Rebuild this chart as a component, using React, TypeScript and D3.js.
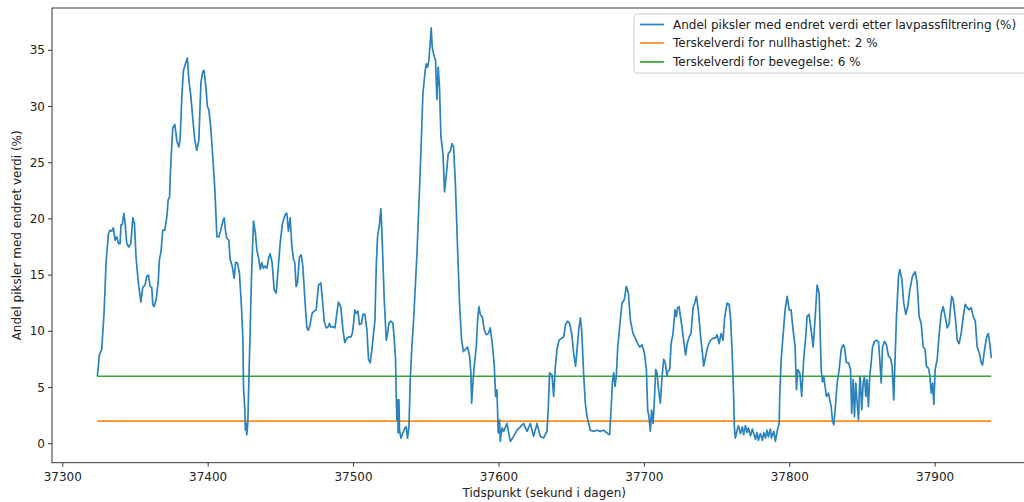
import React from "react";
import * as d3 from "d3";

const tidspunkt: number[] = [
  37323.8, 37325.2, 37326.8, 37328.4, 37329.8, 37331.4, 37332.5, 37333.7, 37334.8, 37336.0, 37337.2, 37338.3, 37339.4, 37340.1, 37341.0, 37342.0, 37342.9, 37344.0, 37345.4, 37346.8,
  37348.2, 37349.3, 37350.4, 37352.0, 37353.7, 37355.0, 37356.6, 37357.8, 37358.9, 37360.1, 37361.2, 37361.9, 37362.8, 37364.2, 37365.6, 37366.5, 37367.6, 37368.8, 37370.2, 37371.6,
  37372.5, 37373.4, 37374.3, 37375.7, 37377.1, 37378.4, 37379.8, 37380.7, 37381.9, 37383.0, 37384.4, 37385.7, 37386.7, 37388.1, 37389.5, 37390.8, 37392.2, 37393.6, 37395.0, 37396.3,
  37397.2, 37398.6, 37399.5, 37400.5, 37401.8, 37403.2, 37404.6, 37406.0, 37407.3, 37408.7, 37410.1, 37411.0, 37411.9, 37412.8, 37414.2, 37415.1, 37416.5, 37417.9, 37418.8, 37420.1,
  37421.5, 37422.9, 37423.9, 37424.3, 37425.2, 37425.6, 37426.1, 37426.6, 37427.3, 37428.0, 37428.9, 37429.8, 37431.2, 37432.5, 37433.5, 37434.9, 37435.8, 37436.9, 37438.0, 37439.2,
  37440.4, 37441.7, 37442.6, 37444.0, 37445.4, 37446.8, 37448.1, 37449.5, 37451.1, 37453.0, 37454.1, 37455.2, 37456.4, 37457.6, 37458.7, 37459.6, 37460.5, 37461.4, 37462.8, 37464.0,
  37465.1, 37466.7, 37467.9, 37469.0, 37470.2, 37471.5, 37472.9, 37474.3, 37475.9, 37477.5, 37478.4, 37479.8, 37481.2, 37482.6, 37483.4, 37484.4, 37485.8, 37487.2, 37488.5, 37489.6,
  37491.3, 37492.7, 37494.0, 37495.4, 37496.8, 37498.2, 37499.1, 37500.0, 37500.9, 37501.8, 37503.0, 37504.1, 37505.5, 37506.4, 37507.8, 37509.2, 37510.3, 37511.5, 37512.8, 37514.7,
  37515.6, 37516.5, 37517.9, 37518.8, 37519.7, 37521.1, 37522.5, 37523.4, 37524.3, 37525.7, 37527.1, 37528.0, 37528.9, 37529.3, 37529.8, 37530.2, 37530.7, 37531.2, 37531.6, 37532.6,
  37533.9, 37535.3, 37536.2, 37537.1, 37538.1, 37539.0, 37540.1, 37541.3, 37543.6, 37545.9, 37547.7, 37549.3, 37550.0, 37550.9, 37551.8, 37552.7, 37553.4, 37554.1, 37555.0, 37556.4,
  37557.3, 37558.2, 37559.1, 37560.1, 37561.5, 37562.6, 37563.7, 37565.1, 37566.5, 37567.7, 37568.8, 37570.1, 37571.5, 37572.9, 37574.3, 37575.6, 37577.0, 37578.4, 37579.8, 37580.7,
  37581.2, 37582.1, 37583.0, 37584.4, 37585.3, 37586.2, 37587.2, 37588.5, 37589.9, 37591.3, 37592.7, 37594.0, 37595.4, 37596.8, 37597.7, 37598.6, 37599.5, 37600.4, 37600.9, 37602.1,
  37603.2, 37605.5, 37607.8, 37610.1, 37612.4, 37614.7, 37616.9, 37619.3, 37621.6, 37623.8, 37626.2, 37628.4, 37630.7, 37633.0, 37633.9, 37634.8, 37636.5, 37637.6, 37638.8, 37639.9,
  37641.3, 37643.1, 37644.5, 37645.8, 37647.2, 37648.6, 37650.0, 37651.3, 37652.7, 37653.7, 37655.1, 37656.0, 37656.9, 37658.2, 37659.4, 37660.6, 37661.7, 37662.8, 37665.1, 37667.4,
  37669.7, 37672.0, 37674.3, 37676.1, 37677.1, 37678.0, 37678.9, 37679.8, 37680.7, 37681.6, 37683.0, 37684.6, 37686.2, 37687.6, 37689.0, 37690.4, 37692.2, 37693.8, 37695.4, 37696.8,
  37698.4, 37700.0, 37701.4, 37702.3, 37703.2, 37704.1, 37705.0, 37706.0, 37706.9, 37707.8, 37708.7, 37709.8, 37711.0, 37712.2, 37713.3, 37714.4, 37715.6, 37716.0, 37717.4, 37718.4,
  37719.7, 37721.1, 37722.0, 37722.9, 37723.9, 37724.8, 37725.9, 37727.0, 37728.4, 37729.4, 37730.8, 37732.1, 37733.5, 37734.6, 37735.8, 37737.1, 37738.5, 37739.9, 37740.8, 37742.2,
  37743.5, 37745.4, 37747.3, 37748.9, 37750.0, 37751.4, 37752.8, 37754.1, 37755.2, 37756.9, 37758.3, 37759.2, 37760.3, 37761.4, 37761.9, 37762.6, 37763.8, 37764.7, 37766.1, 37767.4, 37768.3, 37769.5, 37770.7, 37771.6,
  37773.0, 37774.3, 37775.2, 37776.4, 37777.5, 37778.4, 37779.8, 37781.2, 37782.1, 37783.3, 37784.4, 37785.3, 37786.7, 37787.4, 37789.0, 37790.1, 37791.3, 37792.7, 37793.1, 37794.1, 37795.5, 37796.8, 37798.2, 37799.6, 37800.9, 37802.3, 37803.7,
  37804.6, 37805.5, 37806.9, 37808.2, 37809.6, 37811.0, 37811.9, 37813.3, 37814.7, 37816.1, 37817.5, 37818.8, 37820.2, 37821.6, 37822.5, 37823.4, 37824.3, 37825.2, 37826.6, 37827.5,
  37828.5, 37829.4, 37830.3, 37831.2, 37832.6, 37834.0, 37835.4, 37836.7, 37837.6, 37839.0, 37840.4, 37841.8, 37842.6, 37843.6, 37844.5, 37845.4, 37846.4, 37847.3, 37848.2, 37848.6,
  37849.5, 37850.5, 37851.4, 37852.3, 37853.2, 37854.1, 37855.0, 37856.0, 37856.9, 37858.3, 37859.6, 37861.0, 37861.9, 37862.9, 37863.8, 37865.2, 37866.5, 37867.9, 37869.3, 37870.4,
  37871.5, 37872.5, 37873.4, 37874.8, 37875.7, 37877.1, 37878.4, 37879.8, 37881.2, 37882.6, 37884.4, 37886.3, 37887.6, 37889.0, 37890.4, 37891.8, 37893.1, 37894.0, 37895.4, 37896.3,
  37897.3, 37898.2, 37899.1, 37900.0, 37901.4, 37902.8, 37904.2, 37905.5, 37906.9, 37908.3, 37909.7, 37910.6, 37911.4, 37912.4, 37913.8, 37915.2, 37916.5, 37917.9, 37919.3, 37920.7,
  37922.0, 37923.4, 37924.8, 37926.2, 37927.6, 37928.9, 37930.3, 37931.7, 37932.6, 37934.0, 37935.4, 37936.5, 37937.6, 37938.6,
];

const andelEndret: number[] = [
  6.0, 7.9, 8.4, 11.6, 16.1, 18.7, 19.0, 18.9, 19.2, 18.1, 18.4, 17.8, 17.8, 19.5, 19.5, 20.5, 19.6, 17.8, 17.5, 17.8,
  20.1, 19.6, 16.6, 14.3, 12.6, 13.9, 14.1, 14.9, 15.0, 14.0, 13.9, 12.4, 12.2, 12.8, 14.3, 16.4, 17.1, 19.0, 19.0, 20.2,
  21.7, 21.9, 24.9, 28.1, 28.4, 27.0, 26.4, 27.0, 30.9, 33.2, 33.8, 34.3, 32.4, 30.9, 28.8, 27.0, 26.1, 27.0, 32.1, 33.1,
  33.2, 31.5, 30.0, 29.7, 28.1, 25.5, 22.6, 18.4, 18.4, 19.0, 19.8, 20.1, 19.0, 18.3, 18.1, 16.4, 15.8, 14.7, 16.1, 16.1,
  15.2, 12.2, 9.2, 5.1, 3.0, 1.2, 1.8, 0.8, 1.9, 5.7, 10.1, 14.9, 19.8, 18.7, 17.2, 16.4, 15.5, 16.1, 15.6, 15.8,
  15.6, 16.6, 16.9, 16.1, 13.7, 13.4, 15.5, 17.8, 19.6, 20.4, 20.5, 18.9, 20.1, 17.5, 16.4, 16.1, 14.0, 14.3, 16.6, 16.8,
  15.8, 12.5, 10.3, 10.1, 10.7, 11.6, 11.8, 11.9, 14.1, 14.3, 13.1, 10.9, 10.3, 10.4, 10.7, 10.4, 10.4, 10.3, 11.6, 12.6,
  12.1, 10.1, 9.0, 9.4, 9.5, 9.5, 9.8, 10.7, 11.9, 11.6, 11.8, 10.6, 10.7, 11.5, 11.5, 10.1, 7.5, 7.2, 8.6, 11.0,
  15.8, 18.4, 19.6, 20.9, 18.1, 12.8, 9.2, 9.8, 10.7, 10.9, 10.7, 9.2, 7.5, 4.5, 2.1, 3.9, 0.95, 3.9, 1.2, 0.5,
  0.95, 1.4, 1.5, 0.5, 1.5, 5.7, 8.6, 11.0, 16.9, 24.4, 31.2, 33.2, 33.8, 33.5, 34.1, 35.6, 37.0, 35.3, 34.7, 34.1,
  30.6, 33.5, 31.7, 27.3, 25.8, 22.4, 23.8, 25.8, 26.0, 26.7, 26.4, 22.9, 17.5, 12.5, 9.2, 8.2, 8.4, 8.6, 7.8, 6.3,
  3.6, 5.4, 6.9, 8.6, 11.0, 12.2, 11.5, 11.3, 10.1, 9.7, 9.8, 10.3, 8.9, 6.9, 4.2, 4.8, 0.95, 2.1, 0.2, 1.4,
  1.1, 1.8, 0.2, 0.65, 1.2, 1.5, 1.8, 1.1, 1.8, 0.65, 1.8, 0.65, 0.5, 1.1, 3.0, 6.3, 6.1, 4.2, 6.9, 8.4,
  9.2, 9.4, 9.5, 10.6, 10.9, 10.7, 9.8, 8.1, 6.9, 8.4, 10.4, 11.2, 10.1, 6.3, 3.6, 2.4, 1.8, 1.2, 1.1, 1.2,
  1.1, 1.2, 0.95, 0.8, 3.0, 5.4, 6.3, 5.1, 6.0, 8.4, 10.4, 12.5, 12.8, 14.0, 13.4, 11.0, 9.8, 9.4, 8.9, 8.6,
  8.8, 8.1, 6.6, 3.0, 2.4, 1.1, 3.0, 1.8, 3.9, 6.6, 6.3, 4.8, 3.6, 6.0, 7.5, 7.2, 6.0, 6.4, 6.6, 8.9,
  9.8, 11.9, 11.3, 12.1, 12.2, 11.3, 10.4, 9.2, 7.9, 8.9, 9.5, 9.8, 12.1, 12.5, 13.1, 11.9, 9.8, 8.1, 6.9, 7.8,
  8.6, 9.2, 9.4, 9.4, 9.7, 8.9, 9.8, 9.2, 11.2, 12.5, 12.4, 11.3, 8.4, 4.2, 1.5, 0.5, 1.2, 1.6, 0.9, 1.5, 0.8, 1.6, 1.0, 1.4,
  0.7, 1.3, 0.9, 0.4, 1.0, 0.3, 0.9, 0.3, 1.0, 0.5, 1.2, 0.6, 1.3, 0.5, 1.1, 0.2, 1.1, 1.8, 4.2, 7.5, 9.8, 11.9, 13.1, 11.9, 11.9, 10.1, 8.6,
  4.8, 6.6, 6.3, 4.2, 7.5, 9.5, 11.3, 11.5, 10.1, 8.6, 11.3, 14.1, 13.4, 6.6, 5.5, 6.0, 5.1, 4.2, 4.5, 3.9,
  3.3, 2.0, 1.7, 3.0, 5.4, 6.6, 8.4, 8.8, 8.6, 7.2, 7.2, 6.6, 2.7, 5.7, 2.4, 5.4, 3.6, 2.1, 6.0, 5.7,
  3.0, 5.4, 6.0, 4.2, 5.7, 3.3, 6.0, 7.2, 8.6, 9.1, 9.2, 9.1, 7.5, 5.4, 8.6, 9.1, 8.8, 7.8, 7.6, 6.9,
  3.9, 7.8, 11.3, 14.9, 15.5, 14.6, 12.5, 11.5, 12.2, 13.7, 14.9, 15.3, 14.3, 11.3, 10.7, 8.6, 8.4, 6.9, 6.7, 6.1,
  4.5, 5.4, 3.5, 6.6, 7.5, 9.8, 11.6, 12.2, 11.3, 10.3, 10.7, 12.2, 13.1, 12.8, 11.3, 9.2, 8.9, 9.8, 11.3, 12.4,
  12.1, 11.9, 12.1, 11.3, 10.9, 8.6, 8.1, 7.2, 7.0, 8.4, 9.5, 9.8, 8.9, 7.6,
];

const terskelNull = 2;
const terskelBevegelse = 6;

const xTicks: number[] = [37300, 37400, 37500, 37600, 37700, 37800, 37900];
const yTicks: number[] = [0, 5, 10, 15, 20, 25, 30, 35];

const legendLabels: string[] = [
  "Andel piksler med endret verdi etter lavpassfiltrering (%)",
  "Terskelverdi for nullhastighet: 2 %",
  "Terskelverdi for bevegelse: 6 %",
];
const seriesColors: string[] = ["#2a82bf", "#ff8a24", "#34a834"];

const W = 1024;
const H = 502;
const FONT = "DejaVu Sans, sans-serif";

export default function App() {
  const left = 52;
  const right = 1036.5;
  const top = 8;
  const bottom = 462.7;

  const x = d3.scaleLinear().domain([37292.6, 37969.7]).range([left, right]);
  const y = d3.scaleLinear().domain([-1.69, 38.76]).range([bottom, top]);

  const n = Math.min(tidspunkt.length, andelEndret.length);
  const pts: [number, number][] = tidspunkt.slice(0, n).map((t, i) => [t, andelEndret[i]]);
  const line = d3
    .line<[number, number]>()
    .x((d) => x(d[0]))
    .y((d) => y(d[1]));

  const t0 = tidspunkt[0];
  const t1 = tidspunkt[tidspunkt.length - 1];
  const nullLine = line([
    [t0, terskelNull],
    [t1, terskelNull],
  ]) as string;
  const moveLine = line([
    [t0, terskelBevegelse],
    [t1, terskelBevegelse],
  ]) as string;

  const legendX = 634;
  const legendY = 14;
  const rowYs = [24.5, 43, 62];

  return (
    <svg
      width={W}
      height={H}
      style={{ position: "absolute", left: 0, top: 0, overflow: "hidden", background: "#fff" }}
      fontFamily={FONT}
    >
      <rect x={0} y={0} width={W} height={H} fill="#fff" />
      <path d={nullLine} fill="none" stroke={seriesColors[1]} strokeWidth={1.7} />
      <path d={moveLine} fill="none" stroke={seriesColors[2]} strokeWidth={1.7} />
      <path d={line(pts) as string} fill="none" stroke={seriesColors[0]} strokeWidth={1.7} strokeLinejoin="round" />

      <rect x={left} y={top} width={right - left} height={bottom - top} fill="none" stroke="#222" strokeWidth={0.9} />

      {xTicks.map((t) => (
        <g key={"x" + t}>
          <line x1={x(t)} x2={x(t)} y1={bottom} y2={bottom + 4} stroke="#222" strokeWidth={0.9} />
          <text x={x(t)} y={bottom + 18} textAnchor="middle" fontSize={12} fill="#222">
            {t}
          </text>
        </g>
      ))}
      {yTicks.map((v) => (
        <g key={"y" + v}>
          <line x1={left - 4} x2={left} y1={y(v)} y2={y(v)} stroke="#222" strokeWidth={0.9} />
          <text x={left - 7} y={y(v)} dy="0.35em" textAnchor="end" fontSize={12} fill="#222">
            {v}
          </text>
        </g>
      ))}

      <text x={(left + right) / 2} y={497} textAnchor="middle" fontSize={12} fill="#222">
        Tidspunkt (sekund i dagen)
      </text>
      <text
        transform={`translate(21, ${(top + bottom) / 2}) rotate(-90)`}
        textAnchor="middle"
        fontSize={12}
        fill="#222"
      >
        Andel piksler med endret verdi (%)
      </text>

      <rect
        x={legendX}
        y={legendY}
        width={396}
        height={59}
        rx={3}
        fill="#fff"
        fillOpacity={0.8}
        stroke="#d0d0d0"
        strokeWidth={1}
      />
      {legendLabels.map((lab, i) => (
        <g key={lab}>
          <line x1={640} x2={664} y1={rowYs[i]} y2={rowYs[i]} stroke={seriesColors[i]} strokeWidth={1.7} />
          <text x={673} y={rowYs[i]} dy="0.35em" fontSize={12} fill="#222">
            {lab}
          </text>
        </g>
      ))}
    </svg>
  );
}
